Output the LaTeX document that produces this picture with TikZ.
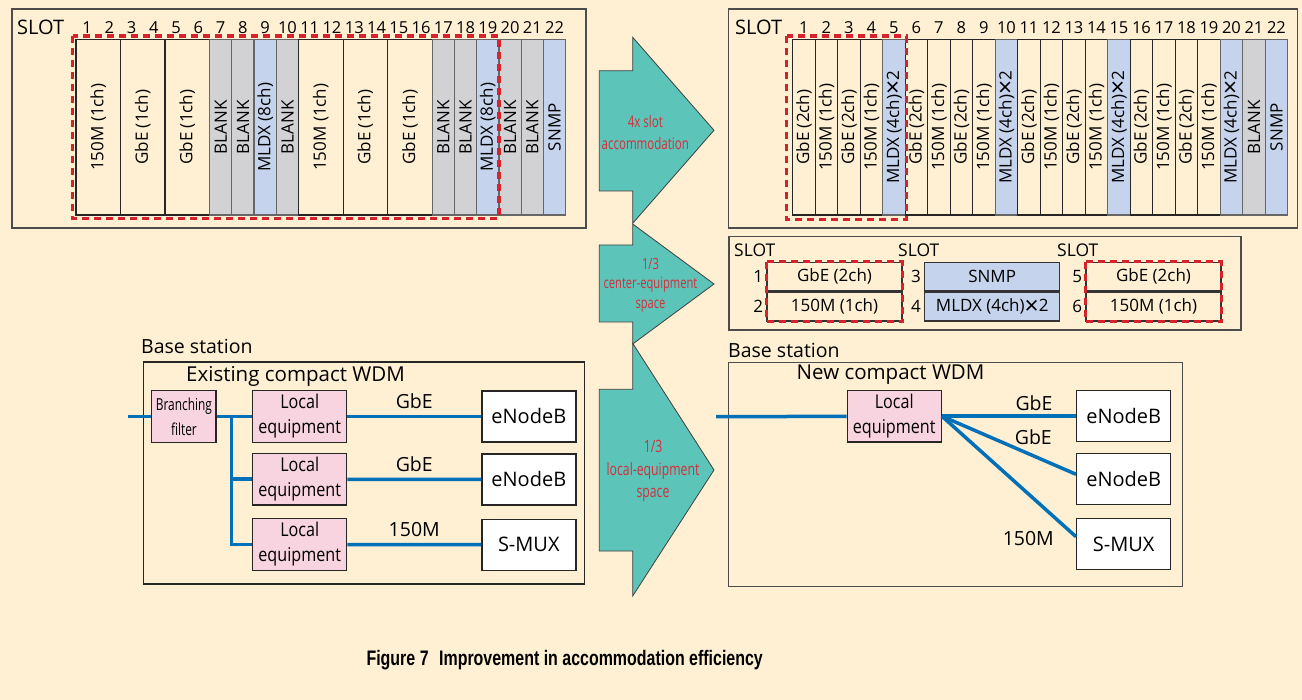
\documentclass[tikz,border=0pt]{standalone}
\usepackage{fontspec}
\setmainfont{Open Sans}
\setsansfont{Open Sans}
\newfontfamily\condfont[FakeStretch=0.72]{Open Sans}
\newfontfamily\narrowfont[FakeStretch=0.85]{Open Sans}
\newfontfamily\capfont[FakeStretch=0.76]{Liberation Sans}
\usepackage{tikz}
\usetikzlibrary{positioning}

\definecolor{bgcream}{RGB}{255,240,212}
\definecolor{slotgray}{RGB}{210,210,212}
\definecolor{slotblue}{RGB}{197,212,236}
\definecolor{pinkbox}{RGB}{247,212,224}
\definecolor{arrowteal}{RGB}{92,196,185}
\definecolor{arrowred}{RGB}{214,46,58}
\definecolor{dashred}{RGB}{214,34,45}
\definecolor{lineblue}{RGB}{0,112,184}

\newcommand{\crossmark}{\raisebox{-0.14em}{\scalebox{1.45}{×}}}

\tikzset{
  panel/.style={draw=black!70, line width=1.3pt},
  slotlabel/.style={font=\fontsize{20}{22}\selectfont, inner sep=0pt},
  slotnum/.style={font=\fontsize{16.5}{18}\selectfont, inner sep=0pt},
  slotbox/.style={draw=black!85, line width=1.2pt, inner sep=0pt, font=\fontsize{17}{19}\selectfont},
  blank/.style={slotbox, draw=black!60, fill=slotgray},
  mldx/.style={slotbox, draw=black!60, fill=slotblue},
  reddash/.style={draw=dashred, line width=3.4pt, dash pattern=on 7pt off 5pt},
  pairbox/.style={draw=black!80, line width=1.2pt, inner sep=0pt, minimum width=135pt, minimum height=28.7pt, font=\fontsize{17}{19}\selectfont},
  pairnum/.style={font=\fontsize{17}{19}\selectfont, inner sep=0pt},
  bigarrow/.style={draw=black!75, line width=0.8pt, fill=arrowteal},
  arrowtext/.style={text=arrowred, align=center, inner sep=0pt},
  stationlabel/.style={font=\fontsize{19.5}{22}\selectfont, anchor=west, inner sep=0pt},
  wdmlabel/.style={font=\fontsize{20.5}{22}\selectfont, anchor=west, inner sep=0pt},
  localbox/.style={draw=black!85, line width=1.4pt, fill=pinkbox, minimum width=94pt, minimum height=51.5pt, inner sep=0pt, align=center, font=\narrowfont\fontsize{19}{25}\selectfont},
  endbox/.style={draw=black!85, line width=1.4pt, fill=white, minimum width=94pt, minimum height=51pt, inner sep=0pt, font=\fontsize{20}{22}\selectfont},
  fibre/.style={draw=lineblue, line width=3.5pt},
  ratelabel/.style={font=\fontsize{19.5}{22}\selectfont, inner sep=0pt},
}

\begin{document}
\begin{tikzpicture}[x=1pt,y=-1pt]
\fill[bgcream] (0,0) rectangle (1302,700);
\useasboundingbox (0,0) rectangle (1302,700);

% existing shelf
\draw[panel] (12,9) rectangle (586,228);
\node[slotlabel, anchor=west] (oldslot) at (17,27.2) {SLOT};
\foreach \n in {1,...,22}
  \node[slotnum] (oldnum\n) at ({76+(\n-0.5)*22.26},28) {\n};
\foreach \a/\b/\txt/\sty in {1/2/150M (1ch)/slotbox, 3/4/GbE (1ch)/slotbox, 5/6/GbE (1ch)/slotbox,
    7/7/BLANK/blank, 8/8/BLANK/blank, 9/9/MLDX (8ch)/mldx, 10/10/BLANK/blank,
    11/12/150M (1ch)/slotbox, 13/14/GbE (1ch)/slotbox, 15/16/GbE (1ch)/slotbox,
    17/17/BLANK/blank, 18/18/BLANK/blank, 19/19/MLDX (8ch)/mldx, 20/20/BLANK/blank,
    21/21/BLANK/blank, 22/22/SNMP/mldx}{
  \pgfmathsetmacro\slotx{76+(\a+\b-1)*11.13}
  \pgfmathsetmacro\slotw{(\b-\a+1)*22.26}
  \node[\sty, rotate=90, minimum width=175.7pt, minimum height=\slotw pt] (old\a) at (\slotx,127.2) {\txt};
}
\draw[reddash] (72.7,36) rectangle (499,218.3);

% new shelf
\draw[panel] (728.3,9) rectangle (1297.3,228);
\node[slotlabel, anchor=west] (newslot) at (735,27.2) {SLOT};
\foreach \n in {1,...,22}
  \node[slotnum] (newnum\n) at ({792.7+(\n-0.5)*22.5},28) {\n};
\foreach \g in {0,1,2,3}{
  \foreach \k/\txt/\sty in {1/GbE (2ch)/slotbox, 2/150M (1ch)/slotbox, 3/GbE (2ch)/slotbox,
      4/150M (1ch)/slotbox, 5/MLDX (4ch)\crossmark2/mldx}{
    \pgfmathtruncatemacro\s{5*\g+\k}
    \node[\sty, rotate=90, minimum width=175.7pt, minimum height=22.5pt] (new\s) at ({792.7+(\s-0.5)*22.5},127.2) {\txt};
  }
}
\node[blank, rotate=90, minimum width=175.7pt, minimum height=22.5pt] (new21) at ({792.7+20.5*22.5},127.2) {BLANK};
\node[mldx, rotate=90, minimum width=175.7pt, minimum height=22.5pt] (new22) at ({792.7+21.5*22.5},127.2) {SNMP};
\draw[reddash] (786.7,36) rectangle (906.7,219.3);

% center equipment
\draw[panel] (729,236.7) rectangle (1241,330);
\node[slotlabel, anchor=west, font=\fontsize{17.5}{20}\selectfont] (slota) at (734,250.5) {SLOT};
\node[slotlabel, anchor=west, font=\fontsize{17.5}{20}\selectfont] (slotb) at (898,250.5) {SLOT};
\node[slotlabel, anchor=west, font=\fontsize{17.5}{20}\selectfont] (slotc) at (1057,250.5) {SLOT};
\node[pairbox] (p1) at (834.5,276.7) {GbE (2ch)};
\node[pairbox, below=0pt of p1] (p2) {150M (1ch)};
\node[pairbox, fill=slotblue] (p3) at (992.2,276.7) {SNMP};
\node[pairbox, fill=slotblue, below=0pt of p3] (p4) {MLDX (4ch)\crossmark2};
\node[pairbox] (p5) at (1153.5,276.7) {GbE (2ch)};
\node[pairbox, below=0pt of p5] (p6) {150M (1ch)};
\foreach \k in {1,...,6}
  \node[pairnum, left=3pt of p\k] (pn\k) {\k};
\draw[reddash] (p1.north west) rectangle (p2.south east);
\draw[reddash] (p5.north west) rectangle (p6.south east);

% arrows
\draw[bigarrow] (599.3,70.7) -- (632.7,70.7) -- (632.7,37.3) -- (714,130.3) -- (632.7,223.3) -- (632.7,191) -- (599.3,191) -- cycle;
\draw[bigarrow] (599.3,245) -- (632.7,245) -- (632.7,224) -- (714,284) -- (632.7,344) -- (632.7,322) -- (599.3,322) -- cycle;
\draw[bigarrow] (599.3,389.3) -- (632.7,389.3) -- (632.7,343.3) -- (714,470) -- (632.7,596) -- (632.7,551) -- (599.3,551) -- cycle;
\node[arrowtext, font=\condfont\fontsize{16}{21.6}\selectfont] (acc) at (645.3,132.5) {4x slot\\accommodation};
\node[arrowtext, font=\condfont\fontsize{15.5}{19.5}\selectfont] (ctr) at (650.5,285) {1/3\\center-equipment\\space};
\node[arrowtext, font=\condfont\fontsize{17}{22.7}\selectfont] (lcl) at (653,471) {1/3\\local-equipment\\space};

% existing base station
\node[stationlabel] (oldbase) at (141,346) {Base station};
\draw[panel, draw=black!85] (143.3,362) rectangle (584.3,584);
\node[wdmlabel] (oldwdm) at (186,376.7) {Existing compact WDM};
\node[localbox, minimum width=64.3pt, font=\condfont\fontsize{16.5}{25}\selectfont] (bf) at (183.9,416.5) {Branching\\filter};
\node[localbox] (loc1) at (299.7,416.5) {Local\\equipment};
\node[localbox] (loc2) at (299.7,479.2) {Local\\equipment};
\node[localbox] (loc3) at (299.7,544.5) {Local\\equipment};
\node[endbox] (enb1) at (528.8,416.5) {eNodeB};
\node[endbox] (enb2) at (528.8,479.5) {eNodeB};
\node[endbox] (smux1) at (528.8,544.8) {S-MUX};
\coordinate (oldin) at (128,416.5);
\coordinate (tap) at (231.7,416.5);
\draw[fibre] (oldin) -- (bf);
\draw[fibre] (bf) -- (loc1);
\draw[fibre] (tap) |- (loc2);
\draw[fibre] (tap) |- (loc3);
\draw[fibre] (loc1) -- node[ratelabel, above=6pt] (og1) {GbE} (enb1);
\draw[fibre] (loc2) -- node[ratelabel, above=6pt] (og2) {GbE} (enb2);
\draw[fibre] (loc3) -- node[ratelabel, above=6pt] (o150) {150M} (smux1);

% new base station
\node[stationlabel] (newbase) at (728,350.7) {Base station};
\draw[panel] (728.3,362.3) rectangle (1182.7,586.7);
\node[wdmlabel] (newwdm) at (796.5,375) {New compact WDM};
\node[localbox] (nloc) at (894.2,416.2) {Local\\equipment};
\node[endbox] (nenb1) at (1123.7,416.2) {eNodeB};
\node[endbox] (nenb2) at (1123.7,478.8) {eNodeB};
\node[endbox] (nsmux) at (1123.7,544.2) {S-MUX};
\coordinate (newin) at (716,416.7);
\draw[fibre] (newin) -- (nloc);
\draw[fibre] (nloc.east) -- (nenb1);
\draw[fibre] (nloc.east) -- ([yshift=4.5pt]nenb2.west);
\draw[fibre] (nloc.east) -- ([yshift=7.5pt]nsmux.west);
\node[ratelabel] (ng1) at (1034,403.3) {GbE};
\node[ratelabel] (ng2) at (1033.3,437.3) {GbE};
\node[ratelabel] (n150) at (1028.3,538.3) {150M};

\node[font=\capfont\bfseries\fontsize{21}{24}\selectfont, inner sep=0pt] (caption) at (564.7,660) {Figure 7\hspace{0.5em}Improvement in accommodation efficiency};
\end{tikzpicture}
\end{document}
